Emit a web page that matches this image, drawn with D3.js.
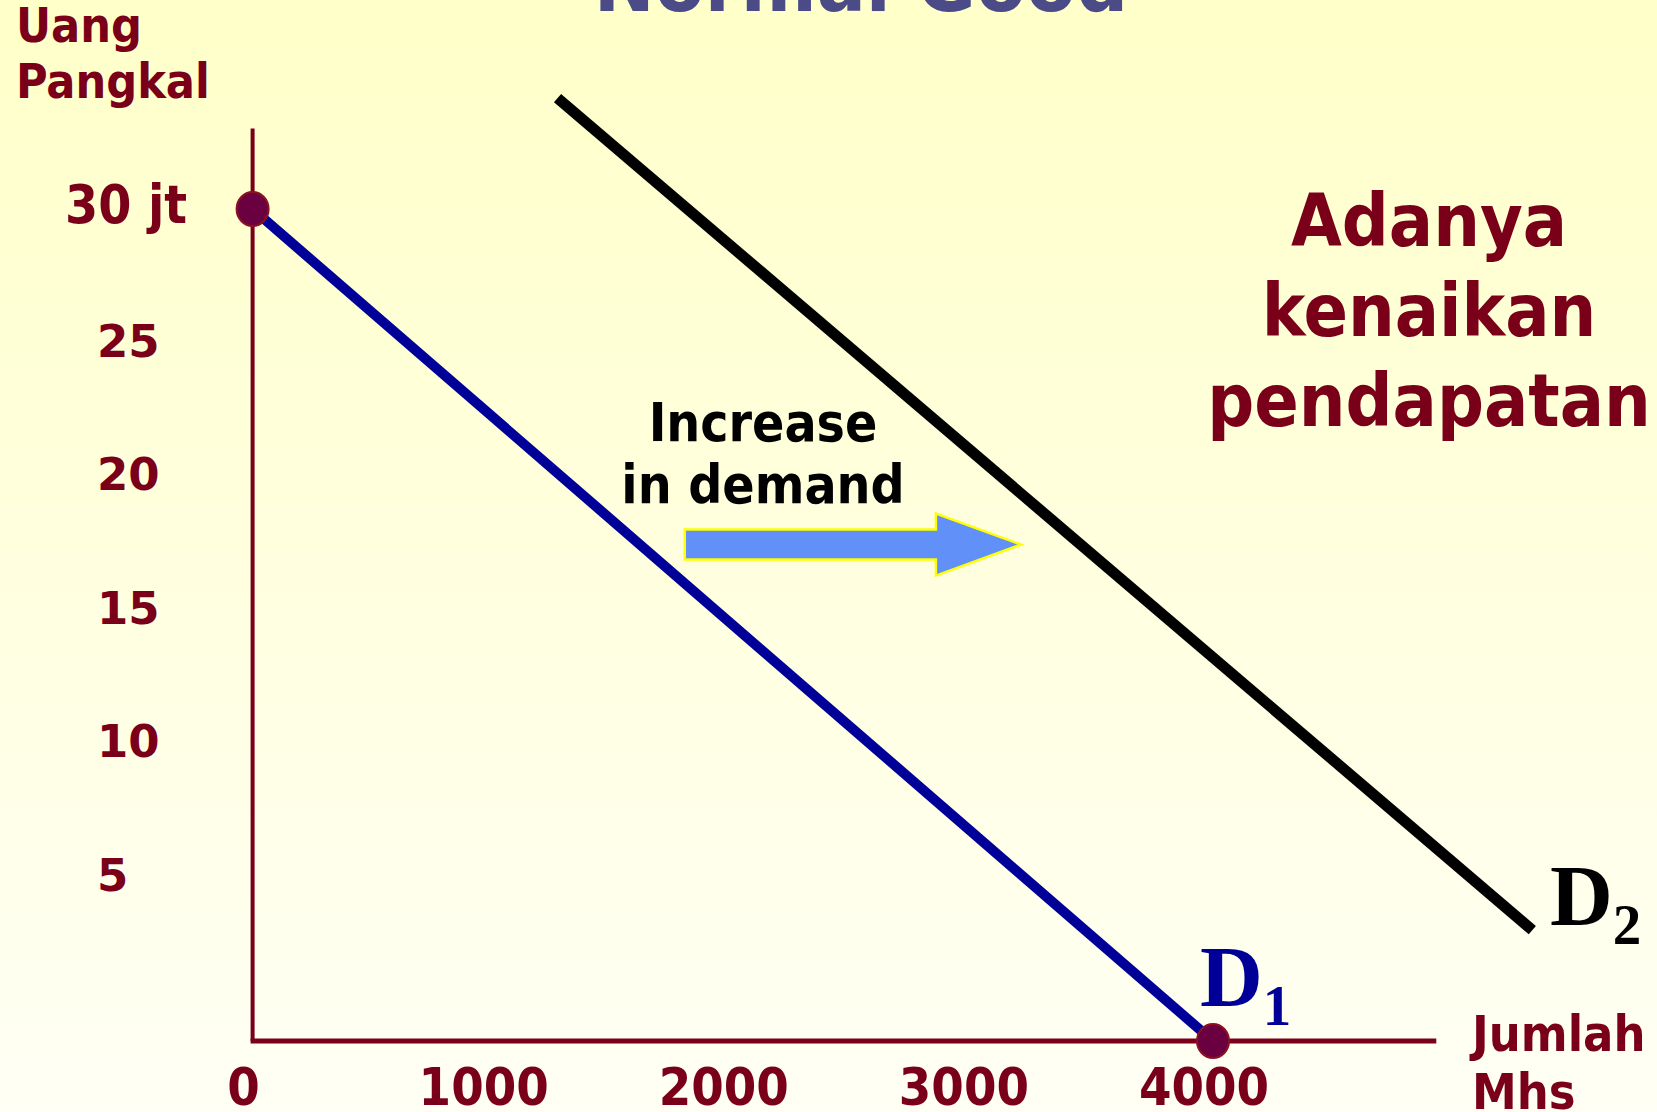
<!DOCTYPE html>
<html>
<head>
<meta charset="utf-8">
<script src="https://cdn.jsdelivr.net/npm/d3@7"></script>
<style>
  body { margin: 0; overflow: hidden; }
  svg text { font-family: "DejaVu Sans Condensed", "DejaVu Sans", sans-serif; font-weight: bold; }
  .serif { font-family: "Liberation Serif", "Times New Roman", serif !important; }
  .wide { font-family: "DejaVu Sans", sans-serif !important; }
</style>
</head>
<body>
<svg id="chart" width="1657" height="1112"></svg>
<script>
//DATA
var priceTicks = [30, 25, 20, 15, 10, 5];          // y tick labels
var qtyTicks = [0, 1000, 2000, 3000, 4000];       // x tick labels
var demand1 = [{q: 0, p: 30}, {q: 4000, p: 0}];   // D1
var demand2 = [{q: 1270, p: 34}, {q: 5330, p: 4}]; // D2 (shifted right)
var markers = [{q: 0, p: 30}, {q: 4000, p: 0}];   // dots on the axes
var shiftArrow = [{q: 1800, p: 17.9}, {q: 3200, p: 17.9}];
var noteLines = ["Adanya", "kenaikan", "pendapatan"];
var arrowLines = ["Increase", "in demand"];

var red = "#7a0019";

var svg = d3.select("#chart");

//background
var defs = svg.append("defs");
var grad = defs.append("linearGradient").attr("id", "bg")
  .attr("x1", 0).attr("y1", 0).attr("x2", 0).attr("y2", 1);
grad.append("stop").attr("offset", "0%").attr("stop-color", "#ffffc9");
grad.append("stop").attr("offset", "100%").attr("stop-color", "#fffff5");
svg.append("rect").attr("width", 1657).attr("height", 1112).attr("fill", "url(#bg)");

//SCALES
var x = d3.scaleLinear().domain([0, 4000]).range([252.6, 1213]);
var y = d3.scaleLinear().domain([0, 30]).range([1041, 209]);
var yLabel = d3.scaleLinear().domain([5, 30]).range([891, 223]); // label baselines

//title (cut off at the top)
svg.append("text")
  .attr("x", 861).attr("y", 11)
  .attr("text-anchor", "middle")
  .style("font-size", "81px")
  .style("fill", "#4b4b87")
  .text("Normal Good");

//axis titles
var yTitle = svg.append("text").style("font-size", "48px").style("fill", red);
yTitle.append("tspan").attr("x", 16).attr("y", 42).text("Uang");
yTitle.append("tspan").attr("x", 16).attr("y", 98).text("Pangkal");

var xTitle = svg.append("text").style("font-size", "50px").style("fill", red);
xTitle.append("tspan").attr("x", 1472).attr("y", 1051).text("Jumlah");
xTitle.append("tspan").attr("x", 1472).attr("y", 1109).text("Mhs");

//tick labels
svg.selectAll(".ylab").data(priceTicks).join("text")
  .attr("class", d => d === 30 ? "ylab" : "ylab wide")
  .attr("x", d => d === 30 ? 65 : 97)
  .attr("y", d => yLabel(d))
  .style("font-size", d => d === 30 ? "53px" : "45px")
  .style("fill", red)
  .text(d => d === 30 ? "30 jt" : d);

svg.selectAll(".xlab").data(qtyTicks).join("text")
  .attr("class", "xlab")
  .attr("x", d => x(d) - 9)
  .attr("y", 1105)
  .attr("text-anchor", "middle")
  .style("font-size", "52px")
  .style("fill", red)
  .text(d => d);

//axes
svg.append("line")
  .attr("x1", x(0)).attr("x2", x(0))
  .attr("y1", y(32.9)).attr("y2", y(0))
  .attr("stroke", red).attr("stroke-width", 4);
svg.append("line")
  .attr("x1", x(0) - 2).attr("x2", x(4930))
  .attr("y1", y(0)).attr("y2", y(0))
  .attr("stroke", red).attr("stroke-width", 5);

//demand curves
var line = d3.line().x(d => x(d.q)).y(d => y(d.p));
svg.append("path").datum(demand2).attr("d", line)
  .attr("stroke", "#000").attr("stroke-width", 11).attr("fill", "none");
svg.append("path").datum(demand1).attr("d", line)
  .attr("stroke", "#000099").attr("stroke-width", 10).attr("fill", "none");

//shift arrow
var ax0 = x(shiftArrow[0].q), ax1 = x(shiftArrow[1].q), ay = y(shiftArrow[0].p);
var headLen = 85, shaftHalf = 15, headHalf = 31;
var arrowPath = d3.path();
arrowPath.moveTo(ax0, ay - shaftHalf);
arrowPath.lineTo(ax1 - headLen, ay - shaftHalf);
arrowPath.lineTo(ax1 - headLen, ay - headHalf);
arrowPath.lineTo(ax1, ay);
arrowPath.lineTo(ax1 - headLen, ay + headHalf);
arrowPath.lineTo(ax1 - headLen, ay + shaftHalf);
arrowPath.lineTo(ax0, ay + shaftHalf);
arrowPath.closePath();
svg.append("path").attr("d", arrowPath.toString())
  .attr("fill", "#6190f8").attr("stroke", "#ffff00").attr("stroke-width", 2.5);

svg.selectAll(".arrowtxt").data(arrowLines).join("text")
  .attr("class", "arrowtxt")
  .attr("x", 763).attr("y", (d, i) => 441 + i * 62)
  .attr("text-anchor", "middle")
  .style("font-size", "53px")
  .style("fill", "#000")
  .text(d => d);

//note on the right
svg.selectAll(".note").data(noteLines).join("text")
  .attr("class", "note")
  .attr("x", 1429).attr("y", (d, i) => 246 + i * 90)
  .attr("text-anchor", "middle")
  .style("font-size", "73px")
  .style("fill", red)
  .text(d => d);

//markers
svg.selectAll(".dot").data(markers).join("ellipse")
  .attr("class", "dot")
  .attr("cx", d => x(d.q)).attr("cy", d => y(d.p))
  .attr("rx", 16).attr("ry", 17)
  .attr("fill", "#6a0040").attr("stroke", "#8b1020").attr("stroke-width", 2);

//curve labels
function curveLabel(px, py, main, sub, color) {
  var t = svg.append("text").attr("class", "serif")
    .attr("x", px).attr("y", py).style("fill", color);
  t.append("tspan").style("font-size", "87px").text(main);
  t.append("tspan").attr("dy", 19).style("font-size", "57px").text(sub);
}
curveLabel(1200, 1006, "D", "1", "#000099");
curveLabel(1550, 925, "D", "2", "#000");
</script>
</body>
</html>
